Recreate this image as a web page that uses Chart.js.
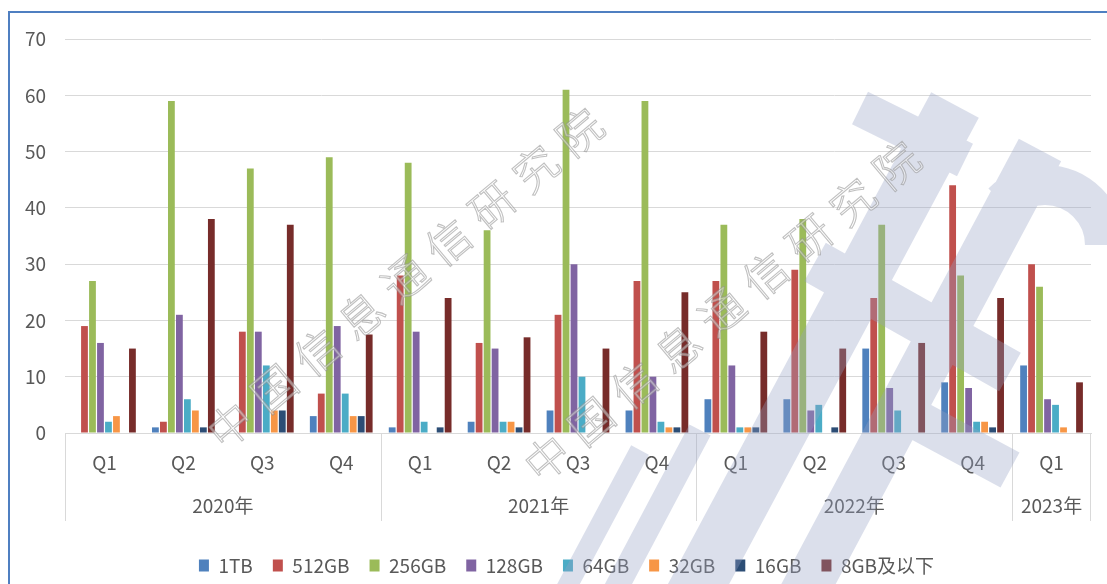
<!DOCTYPE html>
<html>
<head>
<meta charset="utf-8">
<script src="https://cdn.jsdelivr.net/npm/chart.js@4"></script>
<style>
    html, body { margin: 0; padding: 0; background: #fff; overflow: hidden; }
    #wrap { position: relative; width: 1107px; height: 584px; }
    #frame { position: absolute; left: 8px; top: 11px; width: 1300px; height: 800px;
             border-left: 2px solid #4f7fc1; border-top: 2px solid #4f7fc1; pointer-events: none; }
</style>
</head>
<body>
<div id="wrap">
    <canvas id="myChart1" width="1107" height="584"></canvas>
    <div id="frame"></div>
</div>
<script>
var quarters = ['Q1', 'Q2', 'Q3', 'Q4', 'Q1', 'Q2', 'Q3', 'Q4', 'Q1', 'Q2', 'Q3', 'Q4', 'Q1'];
var yearOf = ['2020年', '2020年', '2020年', '2020年', '2021年', '2021年', '2021年', '2021年',
              '2022年', '2022年', '2022年', '2022年', '2023年'];
var seriesNames = ['1TB', '512GB', '256GB', '128GB', '64GB', '32GB', '16GB', '8GB及以下'];
var seriesColors = ['#4f81bd', '#c0504d', '#9bbb59', '#8064a2', '#4bacc6', '#f79646', '#2c4d75', '#772c2a'];

var tb1   = [0, 1, 0, 3,   1, 2, 4, 4,   6, 6, 15, 9,   12];
var gb512 = [19, 2, 18, 7,   28, 16, 21, 27,   27, 29, 24, 44,   30];
var gb256 = [27, 59, 47, 49,   48, 36, 61, 59,   37, 38, 37, 28,   26];
var gb128 = [16, 21, 18, 19,   18, 15, 30, 10,   12, 4, 8, 8,   6];
var gb64  = [2, 6, 12, 7,   2, 2, 10, 2,   1, 5, 4, 2,   5];
var gb32  = [3, 4, 4, 3,   0, 2, 0, 1,   1, 0, 0, 2,   1];
var gb16  = [0, 1, 4, 3,   1, 1, 0, 1,   1, 1, 0, 1,   0];
var gb8   = [15, 38, 37, 17.5,   24, 17, 15, 25,   18, 15, 16, 24,   9];

var watermark = '中国信息通信研究院';
var FONT = '"Noto Sans CJK SC", "Microsoft YaHei", sans-serif';
var TEXT = '#595959';

// legend sits lower than chart.js would put it
var LegendEl = Chart.Legend._element;
var origFit = LegendEl.prototype.fit;
LegendEl.prototype.fit = function () {
    origFit.call(this);
    if (this.isHorizontal()) this.height = 48;
};

// the original legend is a bit right of centre
var legendShift = {
    id: 'legendShift',
    afterLayout: function (chart) {
        chart.legend.left += 21;
        chart.legend.right += 21;
    }
};

// year row + separators under the quarter labels
var yearAxis = {
    id: 'yearAxis',
    afterDraw: function (chart) {
        var ctx = chart.ctx;
        var x = chart.scales.x;
        var step = x.width / quarters.length;
        var top = chart.chartArea.bottom;
        var bottom = x.bottom - 15;
        ctx.save();
        ctx.strokeStyle = '#d9d9d9';
        ctx.lineWidth = 1;
        ctx.fillStyle = TEXT;
        ctx.font = '19px ' + FONT;
        ctx.textAlign = 'center';
        ctx.textBaseline = 'middle';
        var start = 0;
        for (var i = 1; i <= quarters.length; i++) {
            if (i === quarters.length || yearOf[i] !== yearOf[start]) {
                var x0 = x.getPixelForValue(start) - step / 2;
                var x1 = x.getPixelForValue(i - 1) + step / 2;
                ctx.beginPath();
                ctx.moveTo(Math.round(x0) + 0.5, top);
                ctx.lineTo(Math.round(x0) + 0.5, bottom);
                ctx.stroke();
                ctx.fillText(yearOf[start], (x0 + x1) / 2, top + 73);
                if (i === quarters.length) {
                    ctx.beginPath();
                    ctx.moveTo(Math.round(x1) - 0.5, top);
                    ctx.lineTo(Math.round(x1) - 0.5, bottom);
                    ctx.stroke();
                }
                start = i;
            }
        }
        ctx.restore();
    }
};

// watermark: rough logo shape + diagonal text, drawn over the bars
function strip(ctx, x1, y1, x2, y2, w) {
    var dx = x2 - x1, dy = y2 - y1;
    var len = Math.sqrt(dx * dx + dy * dy);
    var nx = -dy / len * w / 2, ny = dx / len * w / 2;
    ctx.moveTo(x1 + nx, y1 + ny);
    ctx.lineTo(x2 + nx, y2 + ny);
    ctx.lineTo(x2 - nx, y2 - ny);
    ctx.lineTo(x1 - nx, y1 - ny);
    ctx.closePath();
}

var stamp = {
    id: 'stamp',
    afterDraw: function (chart) {
        var ctx = chart.ctx;
        var a = chart.chartArea;
        ctx.save();
        ctx.fillStyle = 'rgba(150,160,195,0.34)';
        ctx.beginPath();
        strip(ctx, 955, 105, 690, 600, 54);
        strip(ctx, 1040, 150, 800, 600, 48);
        strip(ctx, 815, 262, 1010, 372, 44);
        strip(ctx, 860, 108, 965, 160, 36);
        strip(ctx, 880, 400, 1010, 470, 40);
        strip(ctx, 610, 600, 700, 430, 24);
        strip(ctx, 560, 600, 640, 450, 20);
        ctx.moveTo(1045 + 80, 245);
        ctx.arc(1045, 245, 80, 0, -Math.PI * 0.75, true);
        ctx.arc(1045, 245, 40, -Math.PI * 0.75, 0, false);
        ctx.closePath();
        ctx.fill();
        ctx.restore();

        var ang = -40 * Math.PI / 180;
        var pitch = 57;
        var starts = [[a.left + 165, a.bottom - 8], [a.left + 482, a.bottom + 25]];
        ctx.save();
        ctx.font = '300 44px ' + FONT;
        ctx.textAlign = 'center';
        ctx.textBaseline = 'middle';
        ctx.lineWidth = 1.1;
        ctx.strokeStyle = 'rgba(140,140,140,0.55)';
        ctx.fillStyle = 'rgba(255,255,255,0.45)';
        starts.forEach(function (s) {
            for (var k = 0; k < watermark.length; k++) {
                var cx = s[0] + Math.cos(ang) * pitch * k;
                var cy = s[1] + Math.sin(ang) * pitch * k;
                ctx.save();
                ctx.translate(cx, cy);
                ctx.rotate(ang);
                ctx.fillText(watermark[k], 0, 0);
                ctx.strokeText(watermark[k], 0, 0);
                ctx.restore();
            }
        });
        ctx.restore();
    }
};

var values = [tb1, gb512, gb256, gb128, gb64, gb32, gb16, gb8];
var datasets = seriesNames.map(function (name, i) {
    return {
        label: name,
        data: values[i],
        backgroundColor: seriesColors[i],
        borderWidth: 0,
        categoryPercentage: 0.81,
        barPercentage: 0.85
    };
});

var ctx = document.getElementById('myChart1');
var myChart = new Chart(ctx, {
    type: 'bar',
    data: { labels: quarters, datasets: datasets },
    options: {
        responsive: false,
        animation: false,
        layout: { padding: { top: 39, right: 16, left: 0, bottom: 0 } },
        plugins: {
            legend: {
                position: 'bottom',
                labels: {
                    boxWidth: 10,
                    boxHeight: 12,
                    padding: 20,
                    color: TEXT,
                    font: { size: 19, family: FONT }
                }
            },
            tooltip: { enabled: false }
        },
        scales: {
            x: {
                grid: { display: false },
                border: { display: true, color: '#d9d9d9', width: 1 },
                ticks: { color: TEXT, padding: 10, font: { size: 19, family: FONT }, maxRotation: 0 },
                afterFit: function (scale) { scale.height = 103; }
            },
            y: {
                min: 0,
                max: 70,
                ticks: { stepSize: 10, color: TEXT, padding: 19, font: { size: 19, family: FONT } },
                grid: { color: '#d9d9d9', lineWidth: 1, drawTicks: false },
                border: { display: false },
                afterFit: function (scale) { scale.width = 65; }
            }
        }
    },
    plugins: [legendShift, yearAxis, stamp]
});
</script>
</body>
</html>
